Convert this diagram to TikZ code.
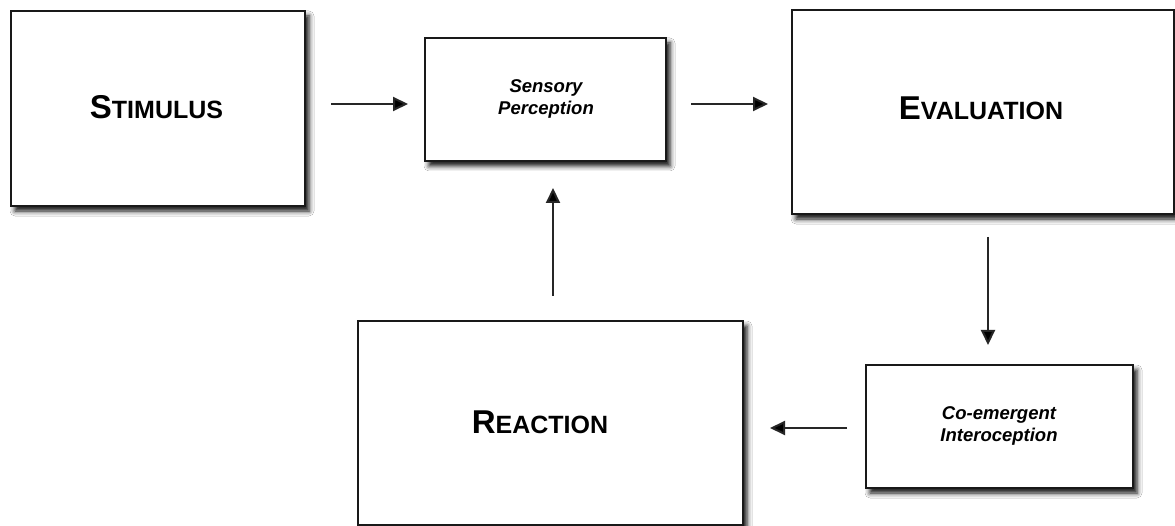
\documentclass[tikz,border=0pt]{standalone}
\usepackage{fontspec}
\setmainfont{Liberation Sans}
\usetikzlibrary{arrows.meta,shadows.blur}

% faked small capitals: first letter large, the rest smaller
\newcommand\capword[2]{{\fontsize{33}{33}\selectfont #1}{\fontsize{25}{25}\selectfont #2}}

\tikzset{
  box/.style={draw=black!90, line width=1.5pt, fill=white, inner sep=0pt, outer sep=0pt,
    blur shadow={shadow xshift=4pt, shadow yshift=-5pt, shadow blur radius=5pt, shadow opacity=95}},
  bigtext/.style={font=\bfseries},
  smalltext/.style={font=\bfseries\itshape\fontsize{18.5}{22}\selectfont, align=center},
  arr/.style={draw=black!85, line width=2pt, -{Triangle[length=15pt,width=14pt,fill=black]}}
}

\begin{document}
\begin{tikzpicture}[x=1pt,y=-1pt]
\fill[white] (0,0) rectangle (1175,526);
\useasboundingbox (0,0) rectangle (1175,526);

% the five stages
\node[box, minimum width=294pt, minimum height=195pt] (stim) at (158,108.5) {};
\node[box, minimum width=241pt, minimum height=123pt] (sens) at (545.5,99.5) {};
\node[box, minimum width=382pt, minimum height=204pt] (eval) at (983,112) {};
\node[box, minimum width=385pt, minimum height=204pt] (react) at (550.5,423) {};
\node[box, minimum width=267pt, minimum height=123pt] (coem) at (999.5,426.5) {};

% labels
\node[bigtext] (stimlbl) at (156.5,107) {\capword{S}{TIMULUS}};
\node[smalltext] (senslbl) at (546,99) {Sensory\\Perception};
\node[bigtext] (evallbl) at (981,108) {\capword{E}{VALUATION}};
\node[bigtext] (reactlbl) at (540,422) {\capword{R}{EACTION}};
\node[smalltext] (coemlbl) at (999,426) {Co-emergent\\Interoception};

% connectors
\coordinate (a1) at ([yshift=-4.5pt]sens.west);
\draw[arr, shorten <=26pt, shorten >=17pt] (stim.east |- a1) -- (a1);
\coordinate (a2) at ([yshift=-4.5pt]sens.east);
\draw[arr, shorten <=25pt, shorten >=24pt] (a2) -- (eval.west |- a2);
\coordinate (a3) at ([xshift=5pt]eval.south);
\draw[arr, shorten <=23pt, shorten >=20pt] (a3) -- (a3 |- coem.north);
\coordinate (a4) at ([yshift=-1.5pt]coem.west);
\draw[arr, shorten <=19pt, shorten >=27pt] (a4) -- (react.east |- a4);
\coordinate (a5) at ([xshift=2.5pt]react.north);
\draw[arr, shorten <=25pt, shorten >=27pt] (a5) -- (a5 |- sens.south);
\end{tikzpicture}
\end{document}
